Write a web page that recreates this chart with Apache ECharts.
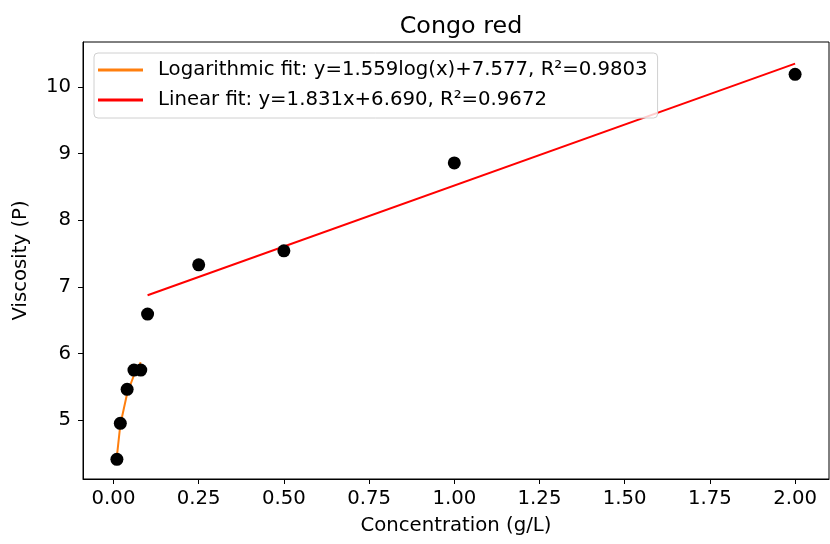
<!DOCTYPE html>
<html>
<head>
<meta charset="utf-8">
<script src="https://cdn.jsdelivr.net/npm/echarts@6/dist/echarts.min.js"></script>
<style>
html,body{margin:0;padding:0;background:#fff;}
#chart{width:830px;height:544px;}
</style>
</head>
<body>
<div id="chart"></div>
<script>
// Measured data points
const concentration = [0.01, 0.02, 0.04, 0.06, 0.08, 0.1, 0.25, 0.5, 1.0, 2.0];
const viscosity = [4.41, 4.95, 5.46, 5.75, 5.75, 6.59, 7.33, 7.54, 8.86, 10.19];

// Logarithmic fit line (as drawn)
const logFitX = [0.01, 0.02, 0.04, 0.06, 0.08];
const logFitY = [4.459, 4.928, 5.398, 5.672, 5.867];

// Linear fit line (as drawn)
const linFitX = [0.1, 2.0];
const linFitY = [6.873, 10.352];

// Tick labels
const xTicks = [0, 0.25, 0.5, 0.75, 1.0, 1.25, 1.5, 1.75, 2.0];
const yTicks = [5, 6, 7, 8, 9, 10];

const logName = 'Logarithmic fit: y=1.559log(x)+7.577, R²=0.9803';
const linName = 'Linear fit: y=1.831x+6.690, R²=0.9672';

const zip = (a, b) => a.map((v, i) => [v, b[i]]);
const FONT = 'DejaVu Sans';
const FS = 19.7;

const chart = echarts.init(document.getElementById('chart'), null, {renderer: 'canvas'});
chart.setOption({
  animation: false,
  backgroundColor: '#fff',
  textStyle: {fontFamily: FONT},
  title: {
    text: 'Congo red',
    left: 456,
    top: 8,
    textAlign: 'center',
    textStyle: {fontFamily: FONT, fontSize: 23.8, fontWeight: 'normal', color: '#000', lineHeight: 28}
  },
  grid: {
    left: 83, right: 1, top: 42, bottom: 65,
    show: true, borderColor: '#000', borderWidth: 1, backgroundColor: 'transparent'
  },
  legend: {
    orient: 'vertical',
    left: 94, top: 53,
    padding: [6, 10, 7, 4],
    itemGap: 8,
    itemWidth: 45, itemHeight: 3,
    icon: 'rect',
    borderColor: '#d0d0d0', borderWidth: 1, borderRadius: 4,
    backgroundColor: 'rgba(255,255,255,0.8)',
    textStyle: {fontFamily: FONT, fontSize: FS, color: '#000', lineHeight: 22, padding: [0, 0, 0, 10]},
    data: [
      {name: logName, itemStyle: {color: '#ff7f0e'}},
      {name: linName, itemStyle: {color: '#ff0000'}}
    ]
  },
  xAxis: {
    type: 'value',
    min: -0.0895, max: 2.0995,
    name: 'Concentration (g/L)',
    nameLocation: 'middle',
    nameGap: 37,
    nameTextStyle: {fontFamily: FONT, fontSize: FS, color: '#000'},
    splitLine: {show: false},
    axisLine: {show: true, onZero: false, lineStyle: {color: '#000', width: 1}},
    axisTick: {show: true, inside: false, length: 5, lineStyle: {color: '#000'}, customValues: xTicks},
    axisLabel: {
      show: true, margin: 10, color: '#000', fontFamily: FONT, fontSize: FS,
      customValues: xTicks,
      formatter: v => Number(v).toFixed(2)
    }
  },
  yAxis: {
    type: 'value',
    min: 4.114, max: 10.676,
    name: 'Viscosity (P)',
    nameLocation: 'middle',
    nameGap: 52,
    nameRotate: 90,
    nameTextStyle: {fontFamily: FONT, fontSize: FS, color: '#000'},
    splitLine: {show: false},
    axisLine: {show: true, onZero: false, lineStyle: {color: '#000', width: 1}},
    axisTick: {show: true, inside: false, length: 5, lineStyle: {color: '#000'}, customValues: yTicks},
    axisLabel: {
      show: true, margin: 12, color: '#000', fontFamily: FONT, fontSize: FS,
      customValues: yTicks,
      formatter: v => String(Math.round(v))
    }
  },
  series: [
    {
      name: logName, type: 'line', data: zip(logFitX, logFitY),
      symbol: 'none', lineStyle: {color: '#ff7f0e', width: 2}, itemStyle: {color: '#ff7f0e'}, z: 2
    },
    {
      name: linName, type: 'line', data: zip(linFitX, linFitY),
      symbol: 'none', lineStyle: {color: '#ff0000', width: 2}, itemStyle: {color: '#ff0000'}, z: 2
    },
    {
      name: 'data', type: 'scatter', data: zip(concentration, viscosity),
      symbol: 'circle', symbolSize: 13, itemStyle: {color: '#000', opacity: 1}, z: 3
    }
  ]
});
</script>
</body>
</html>
